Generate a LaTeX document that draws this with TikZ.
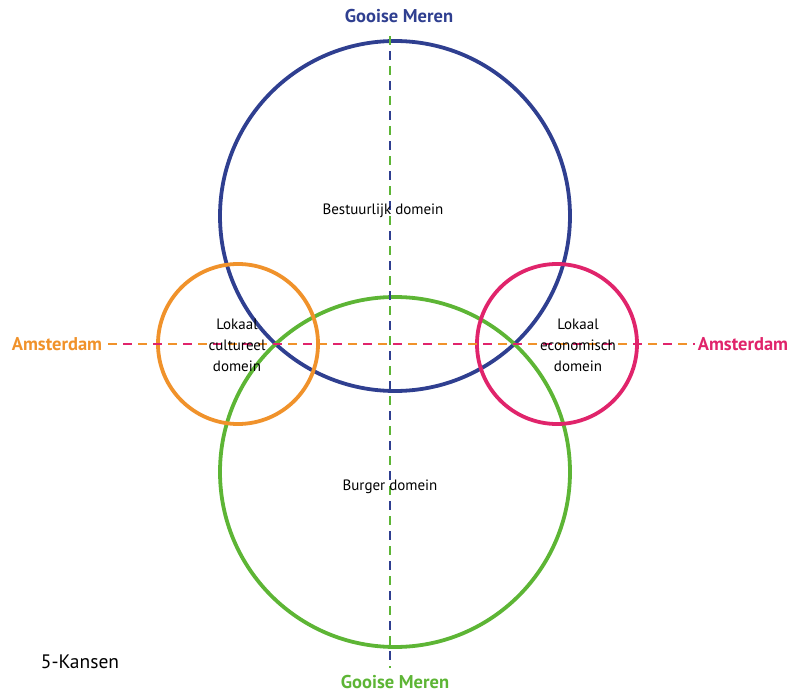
\documentclass[tikz,border=0pt]{standalone}
\usepackage{fontspec}
\setmainfont{PT Sans}
\definecolor{gmblue}{HTML}{2F3F90}
\definecolor{gmgreen}{HTML}{5DB535}
\definecolor{amorange}{HTML}{F0922B}
\definecolor{ammagenta}{HTML}{E0246B}
\begin{document}
\begin{tikzpicture}[x=1pt,y=-1pt,
  ring/.style={line width=3.8pt},
  axis/.style={line width=1.8pt},
  place/.style={font=\fontsize{18.5}{20}\selectfont\bfseries, inner sep=0pt},
  domlabel/.style={font=\fontsize{15}{21}\selectfont, align=center, inner sep=0pt}]
\useasboundingbox (0,0) rectangle (788,693);
% domain circles
\node[ring, draw=gmblue, circle, minimum size=350pt, inner sep=0pt] (bestuur) at (395,216) {};
\node[ring, draw=gmgreen, circle, minimum size=350pt, inner sep=0pt] (burger) at (395,472) {};
\node[ring, draw=amorange, circle, minimum size=160pt, inner sep=0pt] (cultuur) at (238,344) {};
\node[ring, draw=ammagenta, circle, minimum size=160pt, inner sep=0pt] (econ) at (557,344) {};
% end labels
\node[place, text=gmblue] (gmtop) at (399,16) {Gooise Meren};
\node[place, text=gmgreen] (gmbot) at (395,682) {Gooise Meren};
\node[place, text=amorange] (amleft) at (57,344) {Amsterdam};
\node[place, text=ammagenta] (amright) at (743,344) {Amsterdam};
% axes: two-coloured dashed lines
\coordinate (vtop) at (390,36);
\coordinate (vbot) at (390,668);
\coordinate (hleft) at (108,344);
\coordinate (hright) at (695,344);
\draw[axis, gmgreen, dash pattern=on 9pt off 21pt] (vtop) -- (vbot);
\draw[axis, gmblue, dash pattern=on 9pt off 21pt, dash phase=-15pt] (vtop) -- (vbot);
\draw[axis, amorange, dash pattern=on 9pt off 21pt] (hleft) -- (hright);
\draw[axis, ammagenta, dash pattern=on 9pt off 21pt, dash phase=-15pt] (hleft) -- (hright);
% domain labels
\node[domlabel] (tbest) at (383,211) {Bestuurlijk domein};
\node[domlabel] (tburg) at (390,487) {Burger domein};
\node[domlabel] (tcult) at (237,345) {Lokaal\\cultureel\\domein};
\node[domlabel] (tecon) at (578,345) {Lokaal\\economisch\\domein};
\node[font=\fontsize{19.5}{22}\selectfont, inner sep=0pt] (title) at (80,662) {5-Kansen};
\end{tikzpicture}
\end{document}
